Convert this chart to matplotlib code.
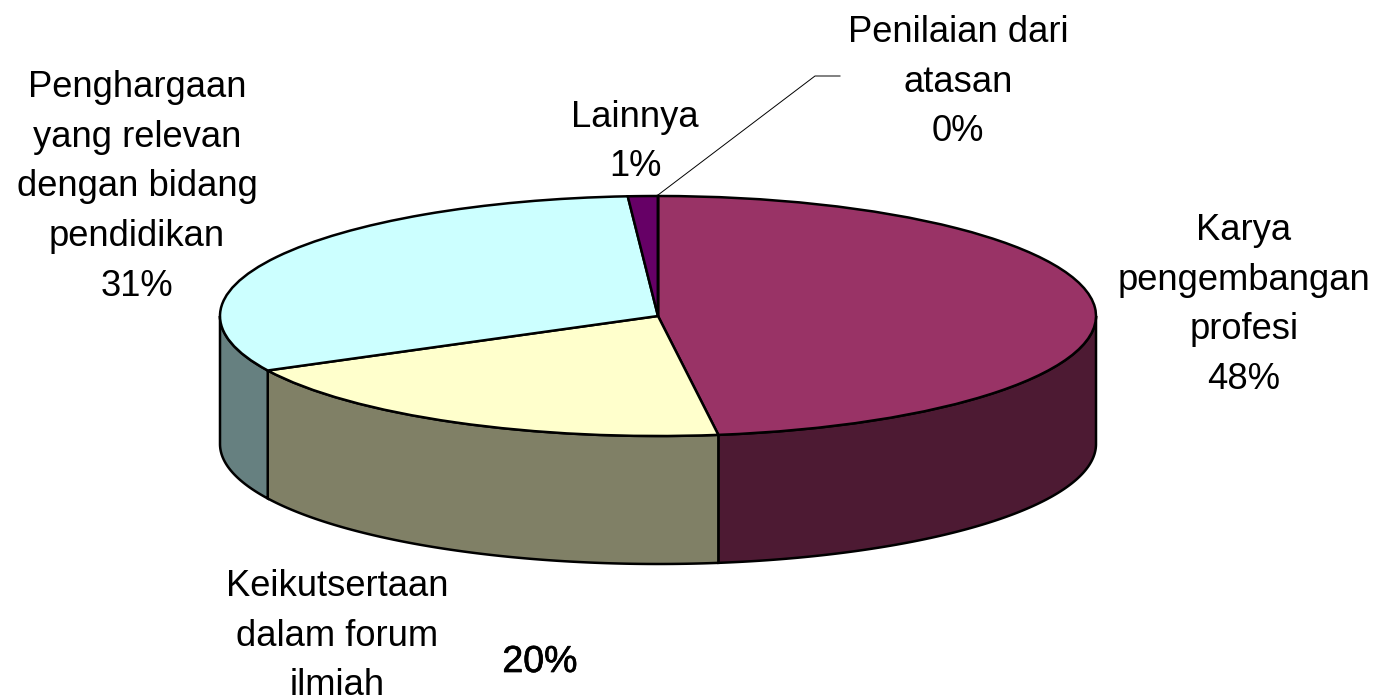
import numpy as np
import matplotlib
matplotlib.use("Agg")
import matplotlib.pyplot as plt
import matplotlib.patheffects as pe

categories = ["Karya\npengembangan\nprofesi", "Keikutsertaan\ndalam forum\nilmiah",
              "Penghargaan\nyang relevan\ndengan bidang\npendidikan", "Lainnya", "Penilaian dari\natasan"]
values = [47.8, 19.7, 31.4, 1.1, 0]
percent_labels = ["48%", "20%", "31%", "1%", "0%"]
top_colors = ["#993366", "#FFFFCC", "#CCFFFF", "#660066", "#FF8080"]
side_colors = ["#4D1A33", "#808066", "#668080", "#330033", "#804040"]

W, H = 1381, 699
CX, CY, RX, RY, DEPTH = 658, 316, 438, 120, 128
plt.rcParams["font.family"] = ["Liberation Sans", "DejaVu Sans"]

fig = plt.figure(figsize=(W / 100, H / 100), dpi=100)
ax = fig.add_axes([0, 0, 1, 1])

# Draw the top of the pie with the library's pie; the axes squash the circle to an ellipse
ax.pie(values, colors=top_colors, startangle=90, counterclock=False, radius=1,
       wedgeprops=dict(edgecolor="black", linewidth=1.8, zorder=3), frame=True)
ax.set_aspect("auto")
ax.set_xlim(-CX / RX, (W - CX) / RX)
ax.set_ylim(-(H - CY) / RY, CY / RY)
ax.axis("off")
d = DEPTH / RY

# Side walls of the front half
frac = np.cumsum([0] + values) / sum(values) * 2 * np.pi
for a0, a1, c in zip(frac[:-1], frac[1:], side_colors):
    lo, hi = max(a0, np.pi / 2), min(a1, 3 * np.pi / 2)
    if hi <= lo:
        continue
    t = np.linspace(lo, hi, 200)
    x, y = np.sin(t), np.cos(t)
    ax.fill(np.r_[x, x[::-1]], np.r_[y, y[::-1] - d], facecolor=c, edgecolor="black",
            linewidth=1.8, zorder=2)

def put(px, py, s, size=26.2, **kw):
    return ax.text((px - CX) / RX, (CY - py) / RY, s, ha="center", va="center", fontsize=size,
                   color="black", linespacing=1.54, zorder=5, **kw)

put(1244, 305, categories[0] + "\n" + percent_labels[0])
put(337, 636, categories[1])
t20 = put(540, 662, percent_labels[1], size=27)
t20.set_path_effects([pe.withStroke(linewidth=0.5, foreground="black")])
put(137, 187, categories[2] + "\n" + percent_labels[2])
put(635, 142, categories[3] + "\n" + percent_labels[3])
put(958, 82, categories[4] + "\n" + percent_labels[4])

# Leader line
lx = (np.array([658, 815, 840]) - CX) / RX
ly = (CY - np.array([195, 76, 76])) / RY
ax.plot(lx, ly, color="black", lw=0.7, zorder=4)

fig.savefig("out.png", dpi=100, facecolor="white")
